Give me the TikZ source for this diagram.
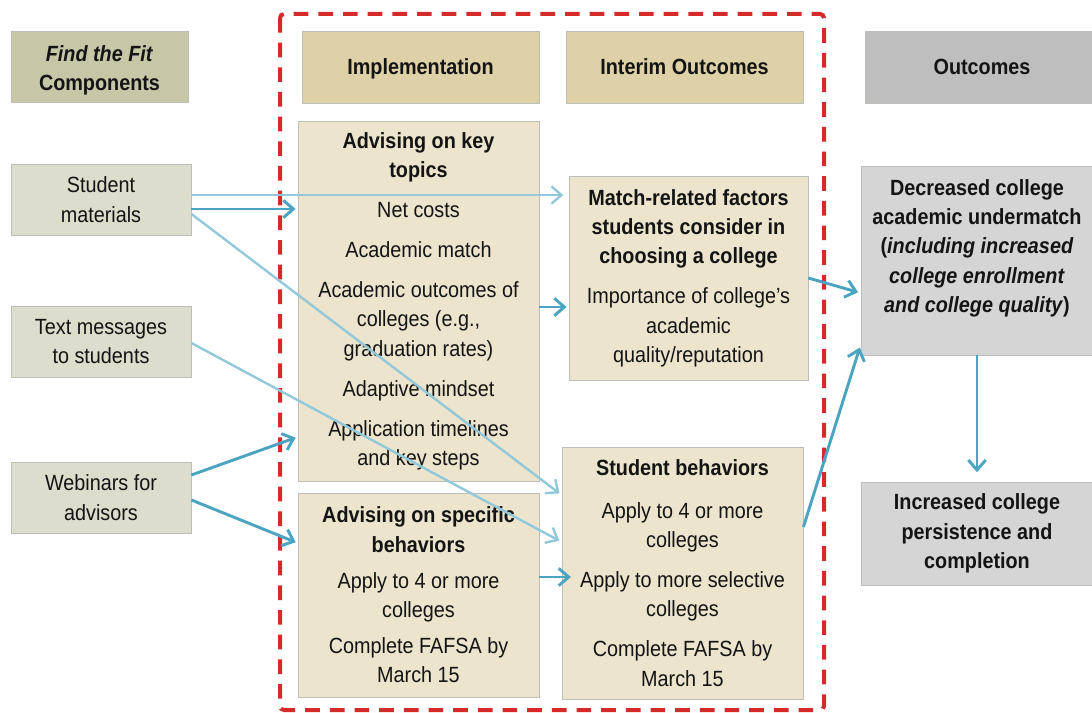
\documentclass[tikz,border=0pt]{standalone}
\usepackage{fontspec}
\setmainfont{Liberation Sans}[FakeStretch=0.9]
\usetikzlibrary{arrows.meta}

\begin{document}
\begin{tikzpicture}[x=0.75pt,y=0.75pt,yscale=-1,xscale=1,
  box/.style={draw={rgb, 255:red, 190; green, 190; blue, 184 }, line width=0.6pt, align=center, inner sep=0pt,
    text={rgb, 255:red, 20; green, 20; blue, 20 }, font=\fontsize{16.5}{22}\selectfont},
  comp/.style={box, fill={rgb, 255:red, 220; green, 221; blue, 204 }, minimum width=135pt, minimum height=53.25pt},
  head/.style={box, fill={rgb, 255:red, 222; green, 209; blue, 168 }, minimum width=177.75pt, minimum height=54pt, text depth=0pt, font=\fontsize{16.5}{22}\selectfont\bfseries},
  tan/.style={box, fill={rgb, 255:red, 236; green, 228; blue, 205 }},
  outc/.style={box, fill={rgb, 255:red, 213; green, 213; blue, 213 }, minimum width=174pt, font=\fontsize{16.5}{22}\selectfont\bfseries},
  darr/.style={draw={rgb, 255:red, 74; green, 164; blue, 194 }, line width=2.2pt, -{Straight Barb[length=7.5pt,width=13pt]}},
  larr/.style={draw={rgb, 255:red, 146; green, 200; blue, 217 }, line width=1.8pt, -{Straight Barb[length=7.5pt,width=13pt]}}]
\useasboundingbox (0,0) rectangle (1092,713);

%Shape: Rectangle [dashed frame]
\draw [color={rgb, 255:red, 214; green, 42; blue, 42 }, line width=3pt, dash pattern=on 11pt off 7.5pt, rounded corners=3pt] (280,14) rectangle (824,710);

%Shape: Rect [left column]
\draw (99.5,66.5) node [comp, minimum width=132.75pt, fill={rgb, 255:red, 198; green, 199; blue, 167 }] (fit) {};
\draw (99.5,70) node [align=center, font=\fontsize{16.5}{22}\selectfont\bfseries, text={rgb, 255:red, 20; green, 20; blue, 20 }] (fitT) {\textit{Find the Fit}\\Components};
\draw (101,199.5) node [comp] (stud) {Student\\materials};
\draw (101,341.5) node [comp] (txt) {Text messages\\to students};
\draw (101,497.5) node [comp] (web) {Webinars for\\advisors};

%Shape: Rect [headers]
\draw (420.5,67) node [head] (impl) {Implementation};
\draw (684.5,67) node [head] (interim) {Interim Outcomes};
\draw (982,67) node [head, minimum width=175.5pt, fill={rgb, 255:red, 190; green, 190; blue, 190 }] (outcomes) {Outcomes};

%Shape: Rect [implementation]
\draw (418.5,301) node [tan, minimum width=180.75pt, minimum height=270pt] (topics) {\textbf{Advising on key}\\\textbf{topics}\\[8pt]
Net costs\\[8pt]
Academic match\\[8pt]
Academic outcomes of\\colleges (e.g.,\\graduation rates)\\[8pt]
Adaptive mindset\\[8pt]
Application timelines\\and key steps};
\draw (418.5,595) node [tan, minimum width=180.75pt, minimum height=153pt] (behav) {\textbf{Advising on specific}\\\textbf{behaviors}\\[5pt]
Apply to 4 or more\\colleges\\[5pt]
Complete FAFSA by\\March 15};

%Shape: Rect [interim outcomes]
\draw (688.5,278) node [tan, minimum width=179.25pt, minimum height=153pt] (match) {\textbf{Match-related factors}\\\textbf{students consider in}\\\textbf{choosing a college}\\[8pt]
Importance of college’s\\academic\\quality/reputation};
\draw (682.5,573) node [tan, minimum width=180.75pt, minimum height=189pt] (sb) {\textbf{Student behaviors}\\[10pt]
Apply to 4 or more\\colleges\\[8pt]
Apply to more selective\\colleges\\[8pt]
Complete FAFSA by\\March 15};

%Shape: Rect [outcomes]
\draw (977,260.5) node [outc, minimum height=141.75pt] (dec) {};
\draw (977,248) node [align=center, font=\fontsize{16.5}{22}\selectfont\bfseries, text={rgb, 255:red, 20; green, 20; blue, 20 }] (decT) {Decreased college\\academic undermatch\\(\textit{including increased}\\\textit{college enrollment}\\\textit{and college quality})};
\draw (977,533.5) node [outc, minimum height=77.25pt] (inc) {Increased college\\persistence and\\completion};

%Straight Lines [arrows]
\draw [larr, shorten >=4pt] (stud.east |- 0,195) -- (match.west |- 0,195);
\draw [darr, shorten >=1.5pt] (stud.east |- 0,209) -- (topics.west |- 0,209);
\draw [larr, shorten >=2pt] (stud.east |- 0,214) -- (sb.west |- 0,495);
\draw [larr, shorten >=2pt] (txt.east |- 0,343) -- (sb.west |- 0,542);
\draw [darr, shorten >=1.5pt] (web.east |- 0,475) -- (topics.west |- 0,437);
\draw [darr, shorten >=1.5pt] (web.east |- 0,500) -- (behav.west |- 0,543);
\draw [darr, shorten >=1.5pt] (topics.east |- 0,307) -- (match.west |- 0,307);
\draw [darr, shorten >=-7pt] (behav.east |- 0,577) -- (sb.west |- 0,577);
\draw [darr, shorten >=2pt] (match.east |- 0,278) -- (dec.west |- 0,293);
\draw [darr, shorten >=2pt] (sb.east |- 0,527) -- (dec.west |- 0,345);
\draw [darr, shorten >=7pt] (dec.south) -- (inc.north);

\end{tikzpicture}
\end{document}
